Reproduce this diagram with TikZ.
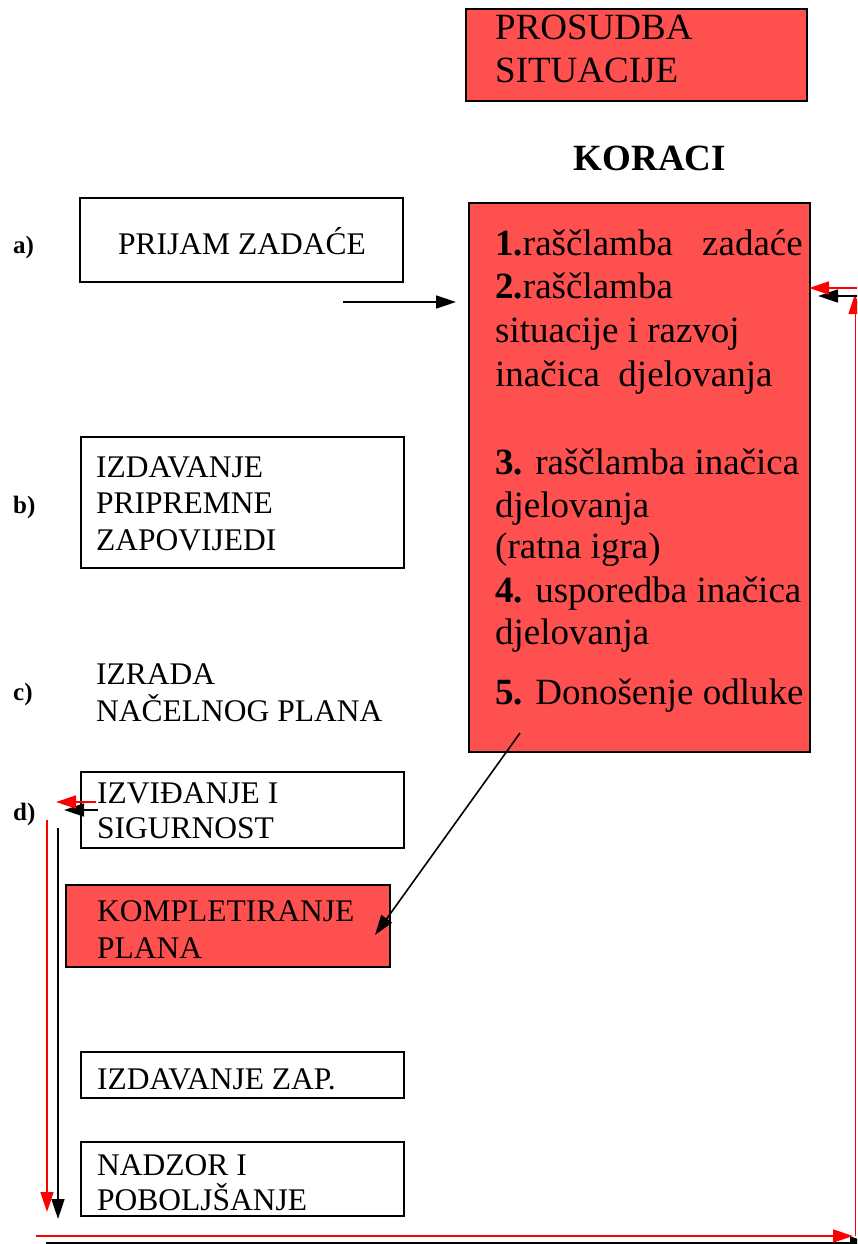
\documentclass[tikz,border=0pt]{standalone}
\usepackage{fontspec}
\setmainfont{Liberation Serif}
\usetikzlibrary{arrows.meta}
\definecolor{boxred}{RGB}{255,80,80}
\begin{document}
\begin{tikzpicture}[x=1pt,y=-1pt,
  box/.style={draw=black,line width=1.6pt,anchor=north west,inner sep=0pt,outer sep=0pt},
  redbox/.style={box,fill=boxred},
  big/.style={font=\rmfamily\fontsize{37}{44}\selectfont,anchor=base west,inner sep=0pt},
  small/.style={font=\rmfamily\fontsize{31.5}{37}\selectfont,anchor=base west,inner sep=0pt},
  lab/.style={font=\rmfamily\fontsize{25}{29}\selectfont\bfseries,anchor=base west,inner sep=0pt},
  arr/.style={line width=1.6pt,-{Triangle[length=20pt,width=13pt]}},
  rarr/.style={arr,red}]
\useasboundingbox (0,0) rectangle (857,1244);
\clip (0,0) rectangle (857,1244);
% boxes
\node[redbox,minimum width=341pt,minimum height=92pt] (pros) at (466,9) {};
\node[redbox,minimum width=341pt,minimum height=549pt] (koraci) at (469,203) {};
\node[box,minimum width=323pt,minimum height=84pt] (prijam) at (80,198) {};
\node[box,minimum width=323pt,minimum height=131pt] (izdpr) at (81,437) {};
\node[box,minimum width=323pt,minimum height=76pt] (izv) at (81,772) {};
\node[redbox,minimum width=324pt,minimum height=82pt] (komp) at (66,885) {};
\node[box,minimum width=323pt,minimum height=46pt] (izdzap) at (81,1052) {};
\node[box,minimum width=323pt,minimum height=74pt] (nadzor) at (81,1142) {};
% top texts
\node[big] (t1) at (495,40) {PROSUDBA};
\node[big] (t2) at (495,83) {SITUACIJE};
\node[big,font=\rmfamily\fontsize{37}{44}\selectfont\bfseries,anchor=base] (kor) at (650,170) {KORACI};
% steps
\node[big] (s1) at (495,255) {\textbf{1.}raščlamba};
\node[big,anchor=base east] (s1b) at (803,255) {zadaće};
\node[big] (s2) at (495,298) {\textbf{2.}raščlamba};
\node[big] (s2b) at (495,342) {situacije i razvoj};
\node[big] (s2c) at (495,386) {inačica\ \ djelovanja};
\node[big] (s3) at (495,474) {\textbf{3.} raščlamba inačica};
\node[big] (s3b) at (495,517) {djelovanja};
\node[big] (s3c) at (495,558) {(ratna igra)};
\node[big] (s4) at (495,602) {\textbf{4.} usporedba inačica};
\node[big] (s4b) at (495,644) {djelovanja};
\node[big] (s5) at (495,704) {\textbf{5.} Donošenje odluke};
% left labels
\node[lab] (la) at (13,253) {a)};
\node[lab] (lb) at (13,513) {b)};
\node[lab] (lc) at (13,700) {c)};
\node[lab] (ld) at (13,820) {d)};
% left texts
\node[small] (p1) at (118,254) {PRIJAM ZADAĆE};
\node[small] (b1) at (96,477) {IZDAVANJE};
\node[small] (b2) at (96,513) {PRIPREMNE};
\node[small] (b3) at (96,550) {ZAPOVIJEDI};
\node[small] (c1) at (96,684) {IZRADA};
\node[small] (c2) at (96,721) {NAČELNOG PLANA};
\node[small] (d1) at (97,803) {IZVIĐANJE I};
\node[small] (d2) at (97,838) {SIGURNOST};
\node[small] (k1) at (97,921) {KOMPLETIRANJE};
\node[small] (k2) at (97,958) {PLANA};
\node[small] (z1) at (97,1089) {IZDAVANJE ZAP.};
\node[small] (n1) at (97,1175) {NADZOR I};
\node[small] (n2) at (97,1210) {POBOLJŠANJE};
% connector coordinates
\coordinate (a1s) at (343,302);
\coordinate (a1e) at (456,302);
\coordinate (dgs) at (520,733);
\coordinate (dge) at (375,935);
\coordinate (rtop1) at (860,288);
\coordinate (rtop2) at (809,288);
\coordinate (btop1) at (860,296);
\coordinate (btop2) at (818,296);
\coordinate (rv1) at (855,1236);
\coordinate (rv2) at (855,294);
\coordinate (rb1) at (36,1236);
\coordinate (rb2) at (853,1236);
\coordinate (bb1) at (46,1243);
\coordinate (bb2) at (870,1243);
\coordinate (rl1) at (47,820);
\coordinate (rl2) at (47,1212);
\coordinate (bl1) at (58,828);
\coordinate (bl2) at (58,1219);
\coordinate (rd1) at (96,802);
\coordinate (rd2) at (56,802);
\coordinate (bd1) at (98,810);
\coordinate (bd2) at (64,810);
% connectors
\draw[arr] (a1s) -- (a1e);
\draw[arr] (dgs) -- (dge);
\draw[rarr,line width=1pt] (rv1) -- (rv2);
\draw[arr] (btop1) -- (btop2);
\draw[rarr] (rtop1) -- (rtop2);
\draw[arr,line width=2pt] (bb1) -- (bb2);
\draw[rarr] (rb1) -- (rb2);
\draw[rarr] (rl1) -- (rl2);
\draw[arr] (bl1) -- (bl2);
\draw[arr] (bd1) -- (bd2);
\draw[rarr] (rd1) -- (rd2);
\end{tikzpicture}
\end{document}
